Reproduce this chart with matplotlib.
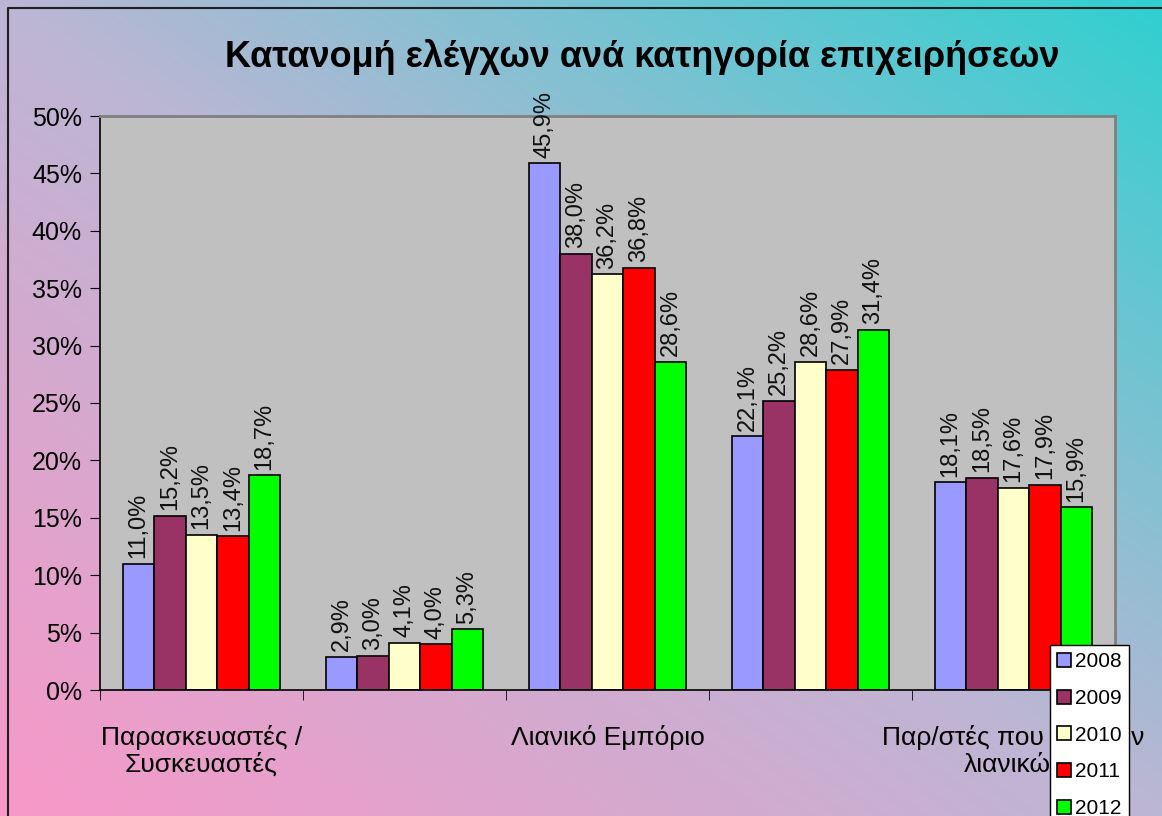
import matplotlib.pyplot as plt
import matplotlib.colors as mcolors
import numpy as np

plt.rcParams['font.family'] = ['Liberation Sans', 'DejaVu Sans']

categories = ['Παρασκευαστές /\nΣυσκευαστές', '', 'Λιανικό Εμπόριο', '', 'Παρ/στές που πωλούν\nλιανικώς']
years = ['2008', '2009', '2010', '2011', '2012']
v2008 = [11.0, 2.9, 45.9, 22.1, 18.1]
v2009 = [15.2, 3.0, 38.0, 25.2, 18.5]
v2010 = [13.5, 4.1, 36.2, 28.6, 17.6]
v2011 = [13.4, 4.0, 36.8, 27.9, 17.9]
v2012 = [18.7, 5.3, 28.6, 31.4, 15.9]
series = [v2008, v2009, v2010, v2011, v2012]
colors = ['#9999ff', '#993366', '#ffffcc', '#ff0000', '#00ff00']

W, H = 1162, 816
fig = plt.figure(figsize=(W / 100, H / 100), dpi=100)

# diagonal gradient background
bg = fig.add_axes([0, 0, 1, 1])
bg.set_axis_off()
xx, yy = np.meshgrid(np.linspace(0, 1, 300), np.linspace(0, 1, 300))
t = (xx + yy) / 2  # 0 bottom-left, 1 top-right
cmap = mcolors.LinearSegmentedColormap.from_list(
    'bg', [(0, '#f898c8'), (0.5, '#bcb6d4'), (1, '#30d0d0')])
bg.imshow(t, cmap=cmap, origin='lower', extent=[0, 1, 0, 1], aspect='auto')
bg.set_xlim(0, 1)
bg.set_ylim(0, 1)
bg.plot([8 / W, 8 / W, 1], [0, 1 - 8 / H, 1 - 8 / H], color='#202020', lw=1.5)

ax = fig.add_axes([100 / W, 1 - 690 / H, 1015 / W, 574 / H])
ax.set_facecolor('#c0c0c0')

x = np.arange(len(categories))
bw = 0.155
for i, (vals, c, yr) in enumerate(zip(series, colors, years)):
    pos = x + (i - 2) * bw
    ax.bar(pos, vals, bw, color=c, edgecolor='black', linewidth=1.2, label=yr, zorder=2)
    for px, v in zip(pos, vals):
        ax.annotate(f'{v:.1f}%'.replace('.', ','), (px, v), xytext=(0, 4),
                    textcoords='offset points', rotation=90, ha='center', va='bottom',
                    fontsize=17, color='#111111', zorder=3, annotation_clip=False)

ax.set_xlim(-0.5, len(categories) - 0.5)
ax.set_ylim(0, 50)
ax.set_yticks(np.arange(0, 51, 5))
ax.set_yticklabels([f'{v}%' for v in range(0, 51, 5)], fontsize=18)
ax.set_xticks(x)
ax.set_xticklabels(categories, fontsize=19, linespacing=1.15)
ax.tick_params(axis='x', length=0, pad=25)
ax.set_xticks(np.arange(-0.5, len(categories), 1), minor=True)
ax.tick_params(axis='x', which='minor', length=7, direction='out', color='black')
ax.tick_params(axis='y', length=7, direction='out', pad=6, color='black')
for s in ['top', 'right']:
    ax.spines[s].set_color('#808080')
    ax.spines[s].set_linewidth(2)
for s in ['left', 'bottom']:
    ax.spines[s].set_color('black')
    ax.spines[s].set_linewidth(1.2)

fig.text(642 / W, 1 - 57 / H, 'Κατανομή ελέγχων ανά κατηγορία επιχειρήσεων',
         ha='center', va='center', fontsize=26, fontweight='bold')

handles, labels = ax.get_legend_handles_labels()
leg = fig.legend(handles, labels, loc='upper left', bbox_to_anchor=(1050 / W, 1 - 645 / H),
                 fontsize=15, frameon=True, fancybox=False, edgecolor='black',
                 framealpha=1, handlelength=0.65, handleheight=0.65, handletextpad=0.2,
                 labelspacing=0.85, borderpad=0.35, borderaxespad=0)
leg.get_frame().set_linewidth(1)

fig.savefig('out.png', dpi=100)
